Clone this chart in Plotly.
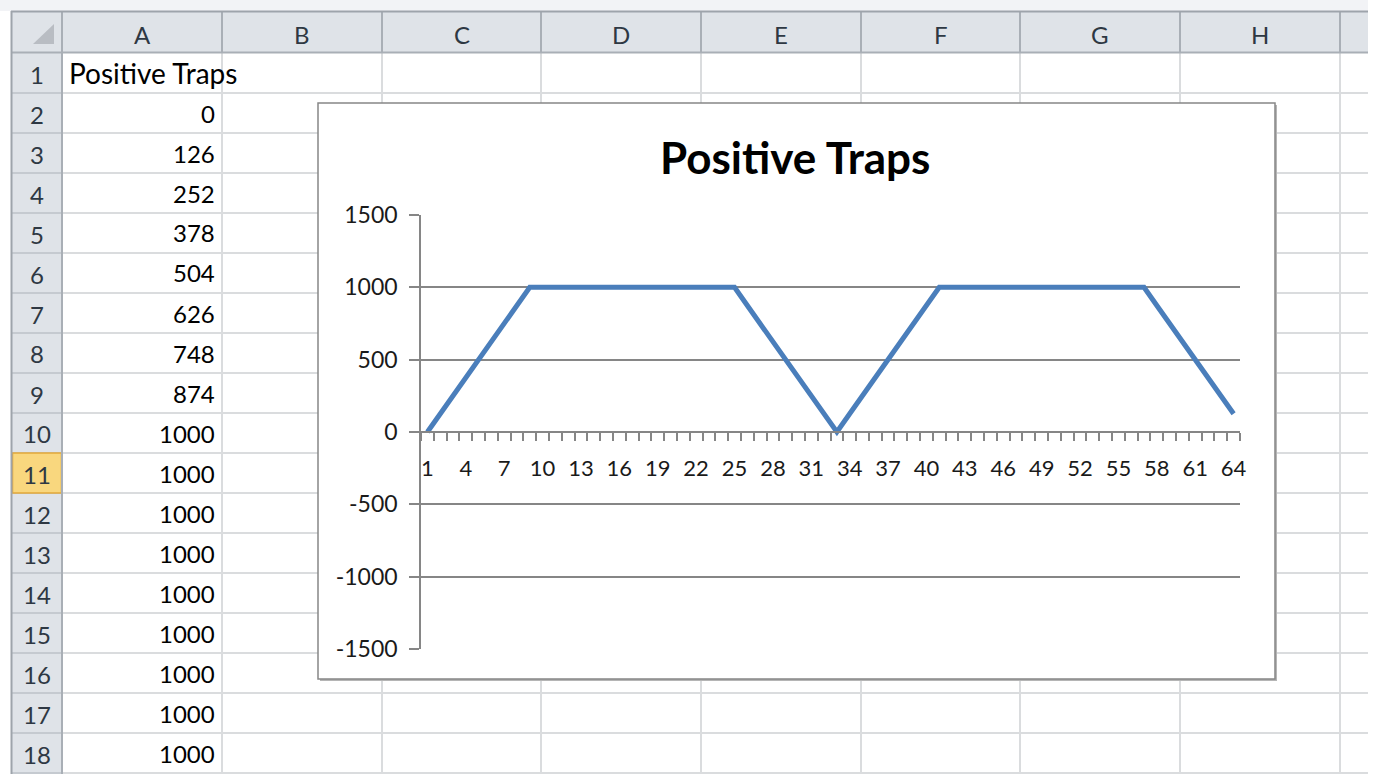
import plotly.graph_objects as go

W, H = 1375, 774

# ---------------- data ----------------
series_name = "Positive Traps"
categories = list(range(1, 65))
positive_traps = [
    0, 126, 252, 378, 504, 626, 748, 874,
    1000, 1000, 1000, 1000, 1000, 1000, 1000, 1000, 1000,
    1000, 1000, 1000, 1000, 1000, 1000, 1000, 1000,
    874, 748, 626, 504, 378, 252, 126,
    0,
    126, 252, 378, 504, 626, 748, 874,
    1000, 1000, 1000, 1000, 1000, 1000, 1000, 1000, 1000,
    1000, 1000, 1000, 1000, 1000, 1000, 1000, 1000,
    874, 748, 626, 504, 378, 252, 126,
]
y_ticks = [-1500, -1000, -500, 0, 500, 1000, 1500]
x_tick_labels = categories[::3]
column_letters = ["A", "B", "C", "D", "E", "F", "G", "H"]
row_numbers = list(range(1, 19))
active_row = 11

# ---------------- helpers (pixel -> paper) ----------------
def px(x):
    return x / W

def py(y):
    return 1 - y / H

FONT = "Lato"
HEAD_BG = "#dfe3e8"
HEAD_LINE = "#a9afb6"
GRID = "#dadcde"
HEAD_TXT = "#2e3843"

col_edges = [62, 222, 382, 541, 701, 861, 1020, 1180, 1340]
RIGHT = 1368
ROW_TOP = 53
ROW_H = 40

shapes = []

def rect(x0, y0, x1, y1, fill, line=None, lw=0):
    shapes.append(dict(type="rect", xref="paper", yref="paper",
                       x0=px(x0), x1=px(x1), y0=py(y1), y1=py(y0),
                       fillcolor=fill, layer="below",
                       line=dict(color=line or fill, width=lw)))

def hline(y, x0, x1, color, w=1.5):
    shapes.append(dict(type="line", xref="paper", yref="paper",
                       x0=px(x0), x1=px(x1), y0=py(y), y1=py(y),
                       layer="below", line=dict(color=color, width=w)))

def vline(x, y0, y1, color, w=1.5):
    shapes.append(dict(type="line", xref="paper", yref="paper",
                       x0=px(x), x1=px(x), y0=py(y0), y1=py(y1),
                       layer="below", line=dict(color=color, width=w)))

# window strip
rect(0, 0, RIGHT, 11, "#f2f3f6")
# header backgrounds
rect(12, 12, RIGHT, 52, HEAD_BG)
rect(12, 52, 62, H, HEAD_BG)
# cell grid lines
for k in range(1, 19):
    hline(ROW_TOP + ROW_H * k, 62, RIGHT, GRID, 2)
for x in col_edges[1:]:
    vline(x, 52, H, GRID, 2)
# row header separators
for k in range(1, 19):
    hline(ROW_TOP + ROW_H * k, 12, 62, "#bcc2c8", 1.5)
# active row header highlight
ay0 = ROW_TOP + ROW_H * (active_row - 1)
rect(12.5, ay0, 61.5, ay0 + ROW_H, "#f9d77e", "#e2a93b", 1.5)
# header separators / borders
for x in col_edges:
    vline(x, 12, 52, HEAD_LINE, 2)
hline(52.5, 12, RIGHT, HEAD_LINE, 2)
vline(62, 52, H, HEAD_LINE, 2)
hline(11.5, 11, RIGHT, "#9ea4ab", 2)
vline(11.5, 11, H, "#9ea4ab", 2)
# select-all triangle
shapes.append(dict(type="path", xref="paper", yref="paper",
                   path=f"M {px(33)},{py(44)} L {px(54)},{py(44)} L {px(54)},{py(24)} Z",
                   fillcolor="#b9bdc3", line=dict(width=0), layer="below"))
# chart object box (shadow + frame)
rect(320, 105, 1277, 681, "#b5b5b5")
rect(318, 103, 1275, 679, "white", "#878787", 1.5)

# ---------------- text ----------------
annotations = []

def text(x, y, s, size, color="#000000", xanchor="center", bold=False):
    annotations.append(dict(xref="paper", yref="paper", x=px(x), y=py(y),
                            text=f"<b>{s}</b>" if bold else s,
                            showarrow=False, xanchor=xanchor, yanchor="middle",
                            font=dict(family=FONT, size=size, color=color)))

for i, letter in enumerate(column_letters):
    text((col_edges[i] + col_edges[i + 1]) / 2, 34, letter, 24, HEAD_TXT)
for r in row_numbers:
    text(37, ROW_TOP + ROW_H * (r - 1) + 21, str(r), 24, HEAD_TXT)
text(67, ROW_TOP + 20, series_name, 28, xanchor="left")
for r, v in zip(row_numbers[1:], positive_traps):
    text(217, ROW_TOP + ROW_H * (r - 1) + 20, str(v), 24, xanchor="right")
# chart title
text(795, 157, series_name, 44, bold=True)

# ---------------- chart ----------------
fig = go.Figure()
fig.add_trace(go.Scatter(x=categories, y=positive_traps, mode="lines",
                         line=dict(color="#4a7ebb", width=5),
                         name=series_name, showlegend=False))

ydom = [py(649), py(215)]
fig.update_layout(
    width=W, height=H,
    autosize=False,
    margin=dict(l=0, r=0, t=0, b=0, pad=0, autoexpand=False),
    paper_bgcolor="white", plot_bgcolor="rgba(0,0,0,0)",
    shapes=shapes, annotations=annotations,
    showlegend=False,
    xaxis=dict(
        domain=[px(421), px(1240)],
        range=[0.5, 64.5],
        anchor="free", position=(ydom[0] + ydom[1]) / 2,
        automargin=False,
        showgrid=False, zeroline=False,
        showline=True, linecolor="#868686", linewidth=1.5,
        tickmode="array", tickvals=x_tick_labels,
        ticktext=[str(v) for v in x_tick_labels],
        ticks="outside", ticklen=0,
        ticklabelstandoff=17,
        tickfont=dict(family=FONT, size=22, color="#1a1a1a"),
        minor=dict(tickmode="array",
                   tickvals=[c - 0.5 for c in categories] + [categories[-1] + 0.5],
                   ticks="outside", ticklen=8, tickwidth=1.5, tickcolor="#868686",
                   showgrid=False),
        fixedrange=True,
    ),
    yaxis=dict(
        domain=ydom,
        range=[-1500, 1500],
        automargin=False,
        tickmode="array", tickvals=y_ticks,
        ticktext=[str(v) for v in y_ticks],
        showgrid=True, gridcolor="#868686", gridwidth=1.5,
        zeroline=False,
        showline=True, linecolor="#868686", linewidth=1.5,
        ticks="outside", ticklen=10, tickwidth=1.5, tickcolor="#868686",
        ticklabelstandoff=7,
        tickfont=dict(family=FONT, size=23, color="#1a1a1a"),
        fixedrange=True,
    ),
)

fig.write_html(
    "out.html",
    config={"displayModeBar": False, "responsive": False},
    post_script=(
        "document.body.style.margin='0';"
        "var gd=document.getElementById('{plot_id}');"
        "gd.style.position='absolute';gd.style.left='0px';gd.style.top='0px';"
    ),
)
